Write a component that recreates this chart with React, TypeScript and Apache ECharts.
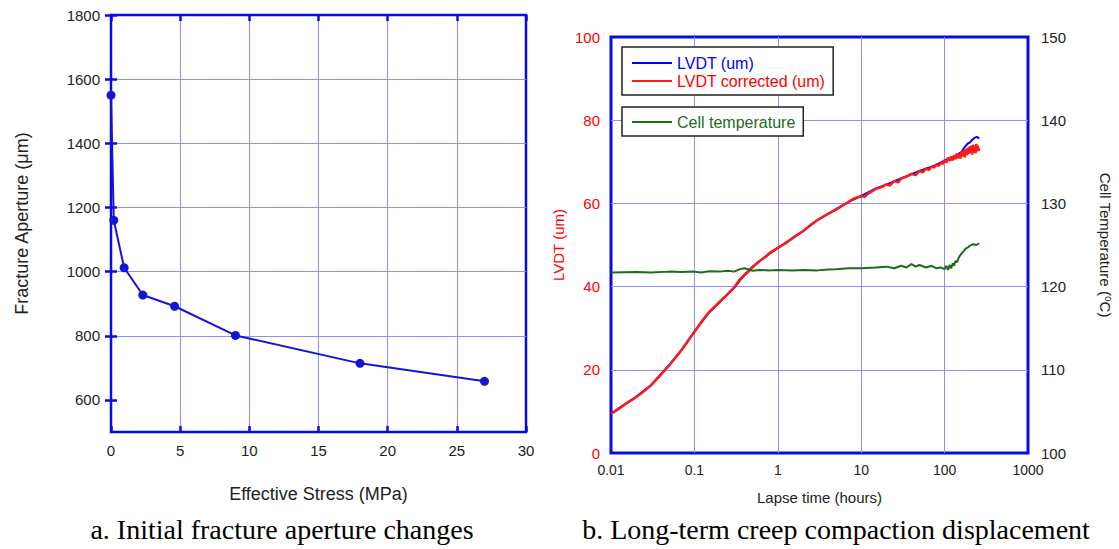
import React, { useEffect, useRef } from 'react';
import * as echarts from 'echarts';

// ---- Panel a: initial fracture aperture ----
const stressMPa = [0, 0.2, 0.95, 2.3, 4.6, 9, 18, 27];
const apertureUm = [1550, 1160, 1012, 927, 892, 801, 714, 658];
const apertureTicks = [600, 800, 1000, 1200, 1400, 1600, 1800];

// ---- Panel b: long-term creep ----
const lvdtHours = [0.01, 0.015, 0.02, 0.03, 0.05, 0.07, 0.1, 0.15, 0.2, 0.3, 0.4, 0.5, 0.7, 1, 1.5, 2, 3, 5, 7, 10, 15, 20, 30, 50, 70, 100, 120, 140, 160, 175, 190, 200, 215, 230, 245, 260];
const lvdtUm = [9.5, 11.9, 13.5, 16.3, 21.2, 24.8, 29.2, 33.8, 36.2, 39.7, 42.9, 44.8, 47.1, 49.3, 51.6, 53.3, 56.0, 58.6, 60.3, 61.8, 63.6, 64.5, 66.0, 67.8, 68.8, 70.3, 70.9, 71.6, 72.4, 73.6, 74.4, 74.6, 75.3, 75.8, 76.0, 75.6];

const corrHours = [0.01, 0.012, 0.015, 0.02, 0.025, 0.03, 0.04, 0.05, 0.06, 0.07, 0.08, 0.09, 0.1, 0.12, 0.15, 0.18, 0.2, 0.25, 0.3, 0.35, 0.4, 0.45, 0.5, 0.6, 0.7, 0.8, 1.0, 1.3, 1.6, 2.0, 2.5, 3.0, 4.0, 5.0, 6.0, 7.0, 8.0, 9.0, 10, 11, 12, 15, 18, 20, 22, 25, 28, 30, 35, 40, 45, 50, 55, 60, 65, 70, 75, 80, 85, 90, 95, 100, 105, 110, 115, 120, 125, 130, 135, 140, 145, 150, 155, 160, 165, 170, 175, 180, 185, 190, 195, 200, 205, 210, 215, 220, 225, 230, 235, 240, 245, 250, 255, 260];
const corrUm = [9.4, 10.4, 11.8, 13.4, 14.9, 16.2, 18.9, 21.1, 23.0, 24.7, 26.3, 27.8, 29.1, 31.4, 33.9, 35.4, 36.3, 38.2, 39.8, 41.7, 42.8, 43.7, 44.7, 46.1, 47.0, 48.1, 49.3, 50.7, 52.1, 53.3, 54.9, 56.0, 57.5, 58.5, 59.5, 60.3, 61.1, 61.5, 61.7, 61.6, 62.3, 63.5, 64.0, 64.6, 64.3, 65.4, 65.1, 66.0, 66.4, 67.1, 66.8, 67.8, 67.5, 68.4, 68.0, 68.9, 68.6, 69.4, 69.0, 69.8, 69.5, 70.4, 69.8, 71.0, 70.2, 71.3, 70.3, 71.6, 70.6, 72.0, 70.8, 71.9, 70.8, 72.5, 71.3, 72.8, 71.1, 73.1, 71.6, 73.4, 71.9, 73.7, 72.1, 73.9, 71.7, 74.1, 72.3, 73.7, 72.0, 74.3, 72.5, 73.9, 72.7, 73.3];

const tempHours = [0.01, 0.02, 0.03, 0.05, 0.07, 0.1, 0.12, 0.15, 0.2, 0.25, 0.3, 0.35, 0.4, 0.45, 0.5, 0.6, 0.8, 1, 1.5, 2, 3, 4, 5, 7, 10, 15, 20, 25, 30, 35, 40, 45, 50, 60, 70, 80, 90, 100, 105, 110, 115, 120, 125, 130, 135, 140, 150, 160, 170, 180, 190, 200, 220, 240, 260];
const tempC = [121.7, 121.75, 121.7, 121.8, 121.75, 121.8, 121.7, 121.85, 121.8, 121.9, 121.8, 122.1, 122.2, 122.05, 121.9, 122.0, 121.95, 122.0, 121.95, 122.0, 121.95, 122.05, 122.1, 122.2, 122.2, 122.3, 122.4, 122.2, 122.5, 122.3, 122.7, 122.4, 122.6, 122.3, 122.5, 122.2, 122.3, 122.1, 122.5, 122.0, 122.6, 122.2, 122.8, 122.5, 123.1, 122.9, 123.6, 124.0, 124.3, 124.6, 124.7, 124.9, 125.1, 125.0, 125.2];

const FONT = '"Liberation Sans", Arial, sans-serif';
const SERIF = '"Liberation Serif", "Times New Roman", serif';
const FRAME = '#0a0ae6';
const LINE_BLUE = '#1414d2';
const RED = '#ff1a1a';
const GREEN = '#1d6b1d';
const GRID_LINE = {
  show: true, showMinLine: false, showMaxLine: false,
  lineStyle: { color: '#8e8ef4', type: 'solid' as const, width: 1 },
};
const plain = (v: number) => String(v);

const zip = (xs: number[], ys: number[]) => xs.map((x, i) => [x, ys[i]]);

export default function App() {
  const ref = useRef<HTMLDivElement>(null);
  useEffect(() => {
    if (!ref.current) return;
    const chart = echarts.init(ref.current, undefined, { renderer: 'svg' });
    const tickIn = { show: true, inside: true, length: 6, lineStyle: { color: FRAME, width: 2.5 } };
    const option: any = {
      animation: false,
      backgroundColor: '#ffffff',
      grid: [
        { left: 111, top: 15, width: 415, height: 417, show: true, borderColor: FRAME, borderWidth: 2.5, backgroundColor: 'transparent' },
        { left: 611, top: 37, width: 417, height: 416, show: true, borderColor: FRAME, borderWidth: 3, backgroundColor: 'transparent' },
      ],
      xAxis: [
        {
          gridIndex: 0, type: 'value', min: 0, max: 30, interval: 5, position: 'bottom',
          axisLine: { show: false }, axisTick: tickIn,
          axisLabel: { margin: 11, fontSize: 15, color: '#222', fontFamily: FONT, formatter: plain },
          splitLine: GRID_LINE,
          name: 'Effective Stress (MPa)', nameLocation: 'middle', nameGap: 53,
          nameTextStyle: { fontSize: 18, color: '#222', fontFamily: FONT },
        },
        {
          gridIndex: 0, type: 'value', min: 0, max: 30, interval: 5, position: 'top',
          axisLine: { show: false }, axisTick: tickIn, axisLabel: { show: false }, splitLine: { show: false },
        },
        {
          gridIndex: 1, type: 'log', logBase: 10, min: 0.01, max: 1000, position: 'bottom',
          axisLine: { show: false }, axisTick: { show: false }, minorTick: { show: false },
          axisLabel: { margin: 10, fontSize: 14, color: '#222', fontFamily: FONT, formatter: plain },
          splitLine: GRID_LINE,
          name: 'Lapse time (hours)', nameLocation: 'middle', nameGap: 37,
          nameTextStyle: { fontSize: 15, color: '#222', fontFamily: FONT },
        },
      ],
      yAxis: [
        {
          gridIndex: 0, type: 'value', min: 500, max: 1800,
          axisLine: { show: false },
          axisTick: { ...tickIn, customValues: apertureTicks },
          axisLabel: { customValues: apertureTicks, margin: 11, fontSize: 15, color: '#222', fontFamily: FONT, formatter: plain },
          splitLine: GRID_LINE,
          name: 'Fracture Aperture (μm)', nameLocation: 'middle', nameGap: 80, nameRotate: 90,
          nameTextStyle: { fontSize: 18, color: '#222', fontFamily: FONT },
        },
        {
          gridIndex: 0, type: 'value', min: 500, max: 1800, position: 'right',
          axisLine: { show: false },
          axisTick: { ...tickIn, customValues: apertureTicks },
          axisLabel: { show: false }, splitLine: { show: false },
        },
        {
          gridIndex: 1, type: 'value', min: 0, max: 100, interval: 20, position: 'left',
          axisLine: { show: false }, axisTick: { show: false },
          axisLabel: { margin: 11, fontSize: 15, color: '#ff0000', fontFamily: FONT, formatter: plain },
          splitLine: GRID_LINE,
          name: 'LVDT (um)', nameLocation: 'middle', nameGap: 45, nameRotate: 90,
          nameTextStyle: { fontSize: 15, color: '#ff0000', fontFamily: FONT },
        },
        {
          gridIndex: 1, type: 'value', min: 100, max: 150, interval: 10, position: 'right',
          axisLine: { show: false }, axisTick: { show: false },
          axisLabel: { margin: 13, fontSize: 15, color: '#222', fontFamily: FONT, formatter: plain },
          splitLine: { show: false },
          name: 'Cell Temperature ({sup|o}C)', nameLocation: 'middle', nameGap: 69, nameRotate: -90,
          nameTextStyle: {
            fontSize: 15, color: '#222', fontFamily: FONT,
            rich: { sup: { fontSize: 10, color: '#222', fontFamily: FONT, verticalAlign: 'top', padding: [0, 0, 6, 0] } },
          },
        },
      ],
      legend: [
        {
          data: [
            { name: 'LVDT (um)', textStyle: { color: '#0000ff' } },
            { name: 'LVDT corrected (um)', textStyle: { color: '#ff0000' } },
          ],
          orient: 'vertical', left: 622, top: 47, padding: [8, 8, 6, 10], itemGap: 2,
          itemWidth: 40, itemHeight: 2, icon: 'rect',
          borderColor: '#222', borderWidth: 1.5, backgroundColor: '#ffffff',
          textStyle: { fontSize: 16, fontFamily: FONT },
          selectedMode: false,
        },
        {
          data: [{ name: 'Cell temperature', textStyle: { color: GREEN } }],
          orient: 'vertical', left: 622, top: 107, padding: [7, 8, 6, 10],
          itemWidth: 40, itemHeight: 2, icon: 'rect',
          borderColor: '#222', borderWidth: 1.5, backgroundColor: '#ffffff',
          textStyle: { fontSize: 16, fontFamily: FONT },
          selectedMode: false,
        },
      ],
      series: [
        {
          name: 'Fracture aperture', type: 'line', xAxisIndex: 0, yAxisIndex: 0,
          data: zip(stressMPa, apertureUm), symbol: 'circle', symbolSize: 9,
          itemStyle: { color: LINE_BLUE }, lineStyle: { color: LINE_BLUE, width: 2 },
        },
        {
          name: 'LVDT (um)', type: 'line', xAxisIndex: 2, yAxisIndex: 2,
          data: zip(lvdtHours, lvdtUm), symbol: 'none',
          itemStyle: { color: '#0000ff' }, lineStyle: { color: '#0000ff', width: 2 },
        },
        {
          name: 'LVDT corrected (um)', type: 'line', xAxisIndex: 2, yAxisIndex: 2,
          data: zip(corrHours, corrUm), symbol: 'none',
          itemStyle: { color: RED }, lineStyle: { color: RED, width: 2.5 },
        },
        {
          name: 'Cell temperature', type: 'line', xAxisIndex: 2, yAxisIndex: 3,
          data: zip(tempHours, tempC), symbol: 'none',
          itemStyle: { color: GREEN }, lineStyle: { color: GREEN, width: 2 },
        },
      ],
      graphic: [
        {
          type: 'text', x: 282, y: 529,
          style: { text: 'a. Initial fracture aperture changes', fontSize: 28, fontFamily: SERIF, fill: '#000', align: 'center', verticalAlign: 'middle' },
        },
        {
          type: 'text', x: 836, y: 529,
          style: { text: 'b. Long-term creep compaction displacement', fontSize: 28, fontFamily: SERIF, fill: '#000', align: 'center', verticalAlign: 'middle' },
        },
      ],
    };
    chart.setOption(option);
    return () => chart.dispose();
  }, []);
  return <div ref={ref} style={{ position: 'fixed', left: 0, top: 0, width: 1119, height: 549, background: '#fff' }} />;
}
